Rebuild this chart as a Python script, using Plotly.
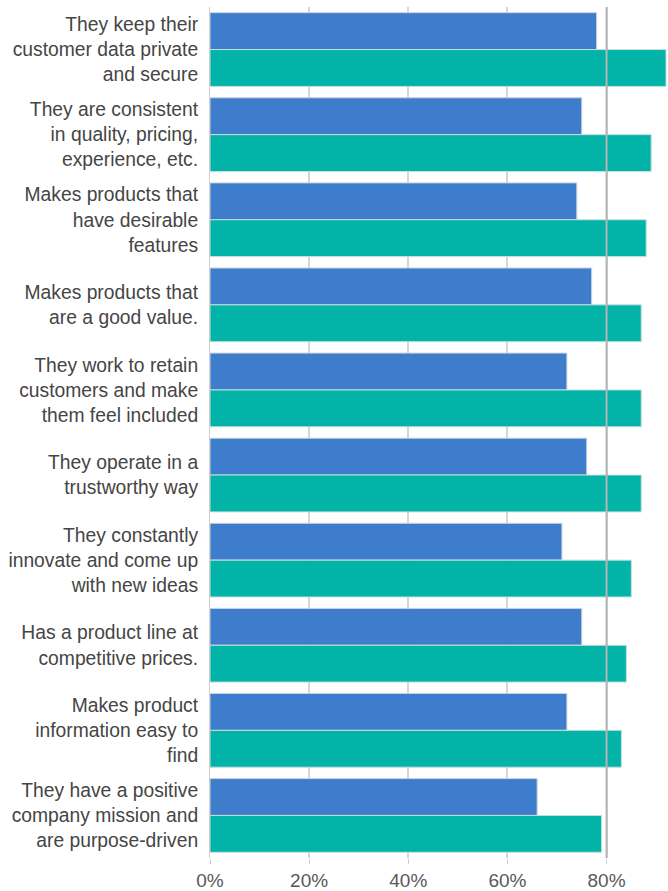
import plotly.graph_objects as go

categories = [
    "They keep their<br>customer data private<br>and secure",
    "They are consistent<br>in quality, pricing,<br>experience, etc.",
    "Makes products that<br>have desirable<br>features",
    "Makes products that<br>are a good value.",
    "They work to retain<br>customers and make<br>them feel included",
    "They operate in a<br>trustworthy way",
    "They constantly<br>innovate and come up<br>with new ideas",
    "Has a product line at<br>competitive prices.",
    "Makes product<br>information easy to<br>find",
    "They have a positive<br>company mission and<br>are purpose-driven",
]
series_a = [78, 75, 74, 77, 72, 76, 71, 75, 72, 66]
series_b = [92, 89, 88, 87, 87, 87, 85, 84, 83, 79]
tick_vals = [0, 20, 40, 60, 80]
tick_text = ["0%", "20%", "40%", "60%", "80%"]

fig = go.Figure()
fig.add_trace(go.Bar(
    y=categories, x=series_a, orientation="h", name="A",
    marker=dict(color="#3D7DCC", line=dict(color="#c9d3df", width=1)),
))
fig.add_trace(go.Bar(
    y=categories, x=series_b, orientation="h", name="B",
    marker=dict(color="#02B3A8", line=dict(color="#c9dedb", width=1)),
))

fig.update_layout(
    width=668, height=891,
    margin=dict(l=210, r=0, t=7, b=29),
    barmode="group", bargap=0.134, bargroupgap=0,
    plot_bgcolor="white", paper_bgcolor="white",
    showlegend=False,
    font=dict(family="Arial, Liberation Sans, sans-serif", color="#404040", size=19.3),
)
fig.update_xaxes(
    range=[0, 92.4], tickvals=tick_vals, ticktext=tick_text,
    showgrid=True, gridcolor="#d6d6d6", gridwidth=1.5,
    ticks="outside", ticklen=5, tickcolor="#cfcfcf",
    tickfont=dict(size=19, color="#595959"),
    zeroline=False, showline=False, fixedrange=True,
)
fig.update_yaxes(
    autorange="reversed", showgrid=False,
    showline=True, linecolor="#cfcfcf", linewidth=1,
    ticks="", ticklabelstandoff=7,
    tickfont=dict(size=19.3, color="#454545"),
)
# darker reference line at 80%
fig.add_shape(type="line", xref="x", yref="paper", x0=80, x1=80, y0=0, y1=1,
              line=dict(color="#b5b5b5", width=2), layer="above")

fig.write_html("out.html")
